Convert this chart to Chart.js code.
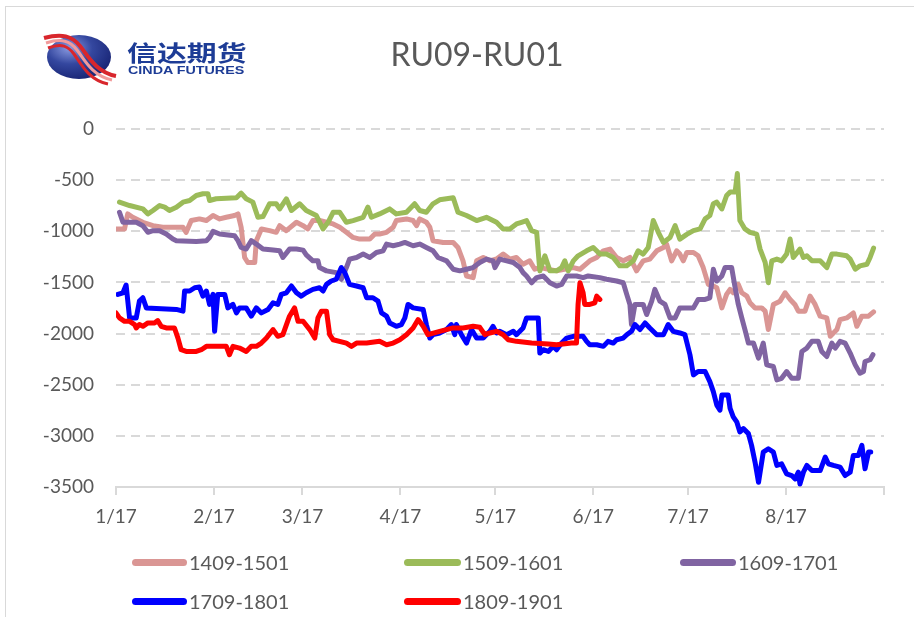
<!DOCTYPE html>
<html>
<head>
<meta charset="utf-8">
<script src="https://cdn.jsdelivr.net/npm/chart.js@4"></script>
<style>
html,body{margin:0;padding:0;background:#fff;}
#wrap{position:relative;width:914px;height:617px;overflow:hidden;font-family:Lato,"Open Sans",sans-serif;background:#fff;}
#frame{position:absolute;left:5px;top:6px;width:960px;height:700px;border:1px solid #d9d9d9;box-sizing:border-box;}
#c{position:absolute;left:0;top:0;}
#title{position:absolute;left:327px;width:300px;top:34px;text-align:center;font-size:32px;color:#595959;line-height:40px;}
#logo{position:absolute;left:40px;top:28px;}
#cn{position:absolute;left:127px;top:37px;font-family:"Noto Sans CJK SC",sans-serif;font-weight:bold;font-size:22px;color:#1d3c96;transform:scaleX(1.36);transform-origin:0 0;white-space:nowrap;line-height:28px;}
#en{position:absolute;left:128px;top:64px;font-family:"Liberation Sans",Arial,sans-serif;font-weight:bold;font-size:11px;color:#1d3c96;transform:scaleX(1.3);transform-origin:0 0;white-space:nowrap;line-height:12px;}
.lg{position:absolute;height:24px;display:flex;align-items:center;font-size:20px;color:#595959;white-space:nowrap;}
.sw{width:55px;height:7px;border-radius:3.5px;margin-right:2px;}
</style>
</head>
<body>
<div id="wrap">
  <div id="frame"></div>
  <canvas id="c" width="914" height="617"></canvas>
  <svg id="logo" width="84" height="60" viewBox="0 0 84 60">
    <defs>
      <radialGradient id="eg" cx="0.35" cy="0.3" r="0.8">
        <stop offset="0" stop-color="#8a9ae0"/>
        <stop offset="0.45" stop-color="#34479f"/>
        <stop offset="1" stop-color="#141f6e"/>
      </radialGradient>
    </defs>
    <ellipse cx="39" cy="29" rx="32" ry="22" fill="url(#eg)"/>
    <path d="M4,10 C22,5 32,8 40,18 S56,44 76,48" fill="none" stroke="#d8262c" stroke-width="4"/>
    <path d="M6,15 C22,10 30,13 37,22 S52,48 72,52" fill="none" stroke="#f29a9a" stroke-width="3"/>
    <path d="M8,20 C22,15 28,18 34,26 S48,52 68,56" fill="none" stroke="#d8262c" stroke-width="3"/>
  </svg>
  <div id="cn">信达期货</div>
  <div id="en">CINDA FUTURES</div>
  <div id="title">RU09-RU01</div>
  <div class="lg" style="left:132px;top:550px"><div class="sw" style="background:#DA9694"></div>1409-1501</div>
  <div class="lg" style="left:404px;top:550px"><div class="sw" style="background:#9BBB59;width:57px"></div>1509-1601</div>
  <div class="lg" style="left:680px;top:550px"><div class="sw" style="background:#8064A2;width:56px"></div>1609-1701</div>
  <div class="lg" style="left:132px;top:589px"><div class="sw" style="background:#0000FF"></div>1709-1801</div>
  <div class="lg" style="left:404px;top:589px"><div class="sw" style="background:#FF0000;width:57px"></div>1809-1901</div>
</div>
<script>
// x values are days after 1/17
const monthTickDays = [0, 31, 59, 90, 120, 151, 181, 212, 243];
const monthTickLabels = ['1/17', '2/17', '3/17', '4/17', '5/17', '6/17', '7/17', '8/17', ''];
const seriesNames = ['1409-1501', '1509-1601', '1609-1701', '1709-1801', '1809-1901'];

const s1409 = [[0,-977],[2.7,-977],[3.7,-830],[5.3,-863],[8.5,-912],[11.7,-945],[14.8,-961],[21.2,-961],[22.2,-1010],[23.8,-895],[26.4,-879],[28.6,-895],[30.7,-846],[32.8,-879],[34.9,-863],[37.5,-846],[38.6,-830],[39.6,-961],[40.7,-1256],[41.7,-1305],[43.9,-1305],[44.4,-1092],[46.0,-977],[48.6,-994],[50.7,-1010],[51.8,-945],[53.9,-994],[57.1,-912],[59.2,-945],[60.7,-977],[62.3,-895],[64.4,-895],[66.6,-912],[68.7,-928],[70.8,-961],[72.9,-1010],[75.0,-1060],[77.1,-1076],[80.3,-1076],[81.9,-1027],[83.4,-1027],[85.6,-1010],[87.7,-961],[88.7,-895],[91.9,-879],[94.0,-895],[95.1,-945],[96.1,-879],[98.2,-912],[99.3,-961],[100.3,-1092],[103.5,-1109],[106.7,-1109],[108.2,-1158],[109.8,-1289],[110.9,-1437],[113.0,-1453],[114.1,-1289],[116.2,-1256],[118.3,-1289],[120.4,-1270],[122.5,-1223],[124.6,-1272],[126.7,-1256],[128.8,-1322],[130.9,-1289],[132.5,-1371],[134.1,-1355],[139.4,-1387],[144.7,-1355],[146.8,-1371],[149.9,-1289],[152.1,-1256],[154.2,-1191],[156.3,-1174],[158.4,-1256],[160.5,-1289],[162.6,-1256],[164.7,-1387],[166.8,-1289],[168.9,-1272],[171.1,-1191],[173.2,-1158],[174.2,-1125],[175.8,-1289],[177.4,-1191],[178.4,-1223],[179.5,-1289],[180.6,-1207],[182.7,-1207],[184.2,-1240],[185.8,-1355],[187.4,-1519],[189.0,-1535],[190.1,-1552],[191.7,-1749],[193.2,-1617],[194.3,-1568],[195.3,-1601],[196.9,-1519],[198.0,-1601],[199.6,-1634],[200.6,-1699],[202.2,-1749],[204.3,-1749],[205.4,-1781],[206.4,-1961],[208.0,-1715],[210.1,-1683],[211.7,-1601],[213.3,-1666],[214.8,-1715],[215.9,-1781],[218.0,-1781],[219.6,-1634],[221.2,-1715],[222.8,-1830],[224.9,-1847],[226.0,-2027],[228.1,-1961],[229.1,-1863],[231.2,-1847],[233.3,-1798],[234.4,-1929],[236.0,-1830],[238.1,-1830],[239.7,-1788]];

const s1509 = [[1.1,-715],[4.3,-748],[8.5,-781],[10.1,-830],[11.7,-797],[13.8,-748],[15.4,-764],[16.9,-797],[19.1,-764],[21.2,-715],[23.3,-699],[25.4,-650],[27.5,-633],[29.1,-633],[29.6,-699],[31.7,-682],[38.1,-672],[39.6,-627],[41.2,-682],[43.3,-715],[44.9,-863],[46.5,-856],[48.6,-731],[50.7,-731],[51.8,-781],[53.9,-682],[55.5,-797],[58.1,-731],[60.2,-797],[63.4,-846],[65.5,-977],[67.1,-912],[68.7,-814],[70.8,-814],[72.9,-912],[75.0,-895],[78.2,-863],[79.7,-764],[80.8,-863],[83.4,-830],[86.6,-781],[88.7,-830],[91.9,-814],[94.5,-731],[96.1,-797],[98.2,-814],[100.3,-731],[102.4,-692],[106.7,-672],[108.2,-814],[110.9,-846],[114.1,-895],[117.2,-863],[120.4,-912],[122.5,-977],[124.6,-977],[126.7,-928],[128.3,-912],[129.9,-895],[131.5,-994],[133.1,-1010],[134.1,-1387],[135.7,-1240],[137.3,-1387],[139.4,-1387],[141.0,-1355],[142.0,-1289],[143.1,-1387],[144.7,-1289],[146.2,-1240],[148.9,-1191],[151.0,-1158],[153.1,-1223],[155.2,-1223],[157.3,-1256],[159.4,-1338],[161.6,-1338],[163.7,-1289],[165.2,-1191],[166.8,-1223],[168.4,-1158],[170.0,-895],[171.6,-1010],[173.2,-1109],[175.3,-1060],[176.9,-945],[178.4,-1076],[180.6,-1030],[182.7,-994],[184.8,-977],[186.4,-879],[187.9,-846],[189.0,-731],[190.1,-715],[191.7,-781],[193.2,-650],[194.3,-617],[195.9,-617],[196.6,-436],[197.4,-895],[199.0,-977],[200.6,-1010],[202.7,-1027],[203.8,-1174],[205.4,-1305],[206.4,-1503],[207.5,-1289],[209.1,-1272],[210.6,-1289],[212.2,-1223],[213.3,-1076],[214.3,-1256],[216.4,-1174],[217.5,-1256],[218.6,-1240],[220.2,-1289],[222.8,-1289],[224.9,-1355],[226.5,-1223],[228.1,-1223],[231.2,-1240],[232.3,-1272],[233.9,-1371],[235.4,-1338],[237.6,-1322],[238.6,-1256],[239.7,-1164]];

const s1609 = [[1.1,-814],[2.2,-912],[6.4,-912],[8.5,-945],[10.1,-1010],[11.7,-994],[13.8,-994],[15.9,-1027],[18.0,-1076],[19.1,-1092],[25.4,-1099],[28.6,-1092],[29.6,-1060],[30.7,-1001],[32.8,-1027],[37.5,-1043],[38.6,-1092],[39.6,-1158],[41.2,-1174],[42.8,-1092],[44.4,-1125],[46.5,-1174],[49.7,-1184],[51.8,-1191],[52.8,-1256],[54.9,-1174],[57.1,-1174],[59.2,-1184],[60.2,-1230],[62.3,-1289],[63.9,-1289],[64.4,-1355],[66.6,-1387],[69.7,-1404],[71.3,-1469],[72.9,-1355],[73.9,-1272],[76.1,-1256],[78.2,-1223],[80.3,-1256],[82.4,-1207],[84.5,-1191],[85.6,-1125],[87.7,-1141],[89.8,-1125],[91.4,-1109],[94.0,-1141],[96.1,-1125],[98.2,-1158],[100.3,-1191],[101.9,-1256],[104.6,-1289],[106.7,-1371],[108.8,-1387],[110.9,-1371],[113.0,-1355],[115.1,-1305],[117.2,-1272],[119.3,-1289],[119.9,-1355],[121.4,-1272],[123.6,-1289],[125.7,-1305],[127.8,-1355],[128.8,-1404],[129.9,-1437],[131.5,-1503],[133.1,-1453],[135.2,-1437],[137.3,-1503],[139.4,-1535],[141.0,-1519],[142.6,-1437],[145.7,-1437],[147.8,-1453],[149.4,-1437],[153.1,-1453],[155.2,-1469],[158.4,-1486],[160.5,-1503],[161.6,-1617],[162.6,-1715],[163.1,-1912],[164.2,-1715],[166.8,-1715],[167.9,-1814],[169.5,-1683],[170.5,-1568],[172.1,-1683],[173.7,-1715],[175.3,-1847],[176.9,-1847],[178.4,-1749],[182.7,-1749],[184.2,-1666],[186.4,-1666],[187.9,-1650],[189.0,-1371],[190.1,-1486],[191.7,-1437],[192.7,-1355],[194.8,-1355],[195.9,-1552],[196.9,-1715],[198.0,-1847],[199.0,-1961],[200.1,-2093],[201.7,-2093],[203.3,-2240],[204.8,-2093],[205.9,-2306],[208.0,-2322],[209.1,-2453],[210.6,-2437],[212.2,-2371],[213.8,-2437],[215.9,-2437],[217.0,-2175],[218.6,-2142],[220.2,-2076],[222.2,-2076],[223.3,-2175],[224.9,-2224],[226.5,-2093],[227.6,-2142],[229.1,-2076],[230.7,-2093],[232.3,-2191],[233.9,-2306],[235.4,-2388],[236.5,-2371],[237.0,-2273],[238.6,-2256],[239.5,-2207]];

const s1709 = [[0.6,-1617],[2.2,-1601],[3.2,-1525],[4.3,-1847],[6.4,-1847],[7.4,-1683],[8.5,-1650],[9.6,-1749],[19.1,-1764],[21.2,-1781],[21.7,-1584],[23.3,-1584],[24.9,-1552],[26.4,-1545],[27.5,-1634],[28.6,-1584],[29.6,-1715],[30.7,-1617],[31.2,-1978],[32.2,-1617],[34.4,-1617],[35.4,-1749],[37.0,-1715],[38.1,-1798],[39.1,-1749],[41.2,-1749],[42.8,-1830],[44.4,-1749],[46.0,-1798],[48.1,-1764],[49.7,-1699],[51.2,-1715],[52.3,-1617],[53.9,-1601],[55.5,-1535],[57.1,-1601],[58.6,-1634],[60.2,-1601],[62.3,-1568],[64.4,-1552],[65.5,-1584],[66.6,-1519],[68.1,-1486],[69.7,-1469],[71.3,-1355],[72.4,-1404],[73.9,-1519],[76.1,-1535],[78.2,-1552],[79.3,-1650],[81.3,-1650],[82.9,-1683],[84.0,-1798],[85.6,-1830],[86.6,-1896],[88.7,-1929],[90.3,-1912],[91.4,-1847],[92.4,-1715],[94.0,-1749],[97.2,-1764],[98.2,-1912],[99.3,-2044],[100.3,-2011],[102.4,-1994],[104.6,-1961],[106.1,-1912],[107.2,-2011],[107.7,-1912],[109.3,-2011],[110.9,-2093],[112.5,-1961],[114.1,-2044],[116.2,-2044],[118.3,-1978],[119.3,-1929],[120.4,-1994],[121.4,-1978],[123.6,-2011],[125.7,-1978],[126.7,-2011],[128.8,-1945],[129.9,-1847],[133.6,-1847],[134.1,-2191],[135.2,-2158],[136.8,-2175],[138.3,-2125],[139.4,-2158],[141.0,-2093],[142.6,-2044],[144.7,-2027],[147.8,-2027],[148.9,-2076],[149.9,-2109],[152.1,-2109],[154.2,-2125],[155.7,-2076],[157.3,-2093],[158.4,-2060],[160.5,-2044],[161.6,-2011],[163.1,-1978],[164.2,-1912],[165.8,-1961],[167.4,-1896],[168.9,-1945],[171.1,-2011],[173.2,-2011],[174.7,-1912],[176.3,-1978],[178.4,-1994],[180.0,-2011],[181.6,-2207],[182.7,-2404],[184.2,-2371],[186.4,-2371],[187.9,-2470],[189.0,-2568],[190.1,-2699],[191.1,-2749],[191.7,-2601],[193.7,-2601],[194.3,-2732],[195.3,-2814],[196.4,-2863],[197.4,-2962],[198.5,-2929],[200.1,-2978],[201.1,-3093],[202.2,-3257],[203.3,-3454],[204.8,-3159],[206.4,-3126],[208.0,-3159],[209.1,-3289],[210.6,-3273],[212.2,-3372],[213.8,-3388],[214.9,-3421],[215.9,-3355],[216.4,-3470],[217.5,-3355],[218.6,-3289],[220.2,-3339],[222.8,-3339],[224.4,-3208],[225.4,-3273],[227.0,-3289],[229.1,-3306],[230.7,-3388],[232.3,-3355],[233.3,-3191],[234.9,-3191],[236.0,-3093],[237.0,-3322],[238.1,-3159],[238.8,-3159]];

const s1809 = [[0,-1798],[1.1,-1847],[2.7,-1880],[4.3,-1880],[5.9,-1912],[6.4,-1945],[7.4,-1912],[8.5,-1929],[10.1,-1896],[12.2,-1896],[13.2,-1873],[14.3,-1929],[15.9,-1945],[18.5,-1945],[19.6,-2044],[20.6,-2158],[22.2,-2175],[25.4,-2175],[27.0,-2158],[28.6,-2125],[34.9,-2125],[35.9,-2207],[37.0,-2125],[39.1,-2142],[41.2,-2175],[42.8,-2125],[44.4,-2125],[46.0,-2093],[47.6,-2044],[49.7,-1961],[51.2,-2027],[52.8,-2011],[54.9,-1830],[56.5,-1749],[57.6,-1880],[59.2,-1880],[61.3,-1961],[62.9,-2044],[63.9,-1847],[65.0,-1781],[66.6,-1781],[67.6,-2011],[68.7,-2060],[72.9,-2093],[74.5,-2125],[76.1,-2093],[79.3,-2093],[83.4,-2076],[85.6,-2109],[87.7,-2093],[89.8,-2060],[91.9,-2011],[94.0,-1945],[95.6,-1863],[97.2,-1929],[98.7,-2011],[102.4,-1978],[106.7,-1945],[109.8,-1945],[113.0,-1929],[115.1,-1939],[116.7,-2011],[118.3,-1994],[120.4,-1978],[122.5,-2011],[124.1,-2060],[126.7,-2076],[131.5,-2093],[136.8,-2102],[139.4,-2109],[144.1,-2093],[145.7,-2093],[146.2,-1715],[146.8,-1503],[147.8,-1601],[148.3,-1715],[149.9,-1715],[151.5,-1699],[152.1,-1634],[153.1,-1666]];

const seriesData = [s1409, s1509, s1609, s1709, s1809];
const seriesColors = ['#DA9694', '#9BBB59', '#8064A2', '#0000FF', '#FF0000'];

const GRID = '#d9d9d9';
const TXT = '#595959';
const FONT = 'Lato';

new Chart(document.getElementById('c'), {
  type: 'line',
  data: {
    datasets: seriesData.map((arr, i) => ({
      label: seriesNames[i],
      data: arr.map(p => ({x: p[0], y: p[1]})),
      borderColor: seriesColors[i],
      backgroundColor: seriesColors[i],
      borderWidth: 5,
      pointRadius: 0,
      tension: 0,
      fill: false,
      borderJoinStyle: 'round',
      borderCapStyle: 'round',
      order: seriesData.length - 1 - i
    }))
  },
  options: {
    responsive: false,
    animation: false,
    events: [],
    layout: {padding: {left: 0, right: 30, top: 129, bottom: 70}},
    plugins: {legend: {display: false}, title: {display: false}, tooltip: {enabled: false}},
    scales: {
      x: {
        type: 'linear',
        min: 0,
        max: 243,
        afterBuildTicks: (s) => { s.ticks = monthTickDays.map(v => ({value: v})); },
        afterFit: (s) => { s.height = 60; },
        ticks: {
          autoSkip: false,
          maxRotation: 0,
          color: TXT,
          font: {family: FONT, size: 19},
          padding: 10,
          callback: (v) => monthTickLabels[monthTickDays.indexOf(v)]
        },
        grid: {drawOnChartArea: false, drawTicks: true, tickLength: 8, color: GRID, lineWidth: 2},
        border: {display: true, color: GRID, width: 2}
      },
      y: {
        min: -3500,
        max: 0,
        afterFit: (s) => { s.width = 116; },
        ticks: {stepSize: 500, color: TXT, font: {family: FONT, size: 19}, padding: 22, callback: (v) => String(v)},
        grid: {color: GRID, lineWidth: 2, drawTicks: false},
        border: {display: false, dash: [9, 6]}
      }
    }
  }
});
</script>
</body>
</html>
